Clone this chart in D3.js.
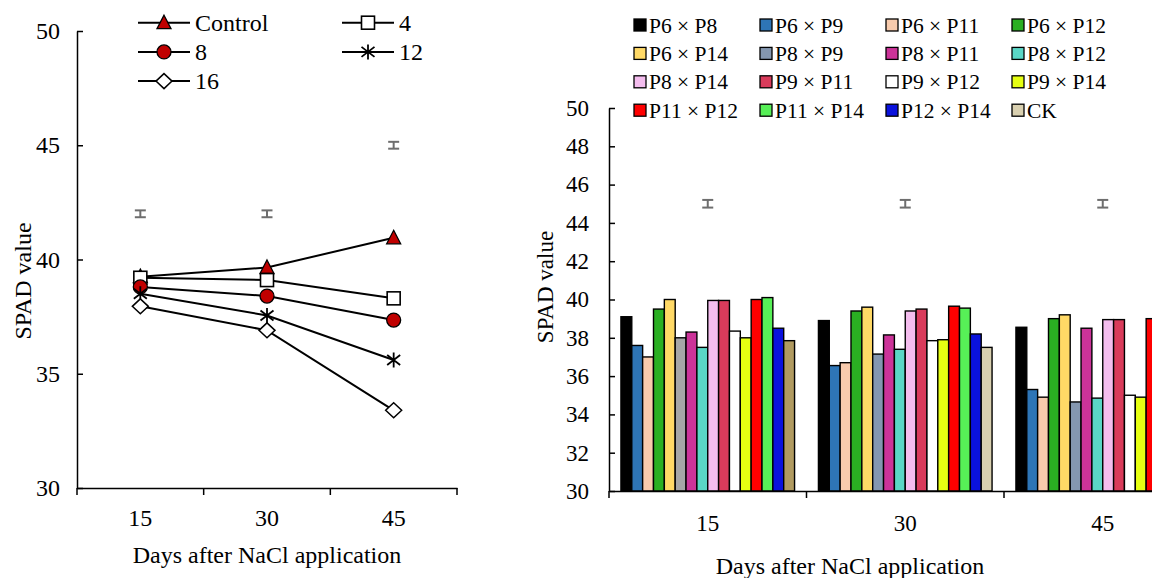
<!DOCTYPE html>
<html><head><meta charset="utf-8">
<script src="https://cdn.jsdelivr.net/npm/d3@7"></script>
<style>
body{margin:0;background:#fff}
svg{display:block}
</style>
</head><body><svg id="c" width="1152" height="578"></svg>
<script>
// ---------- DATA ----------
const days = ["15", "30", "45"];

// Left panel: NaCl concentrations
const lineNames = ["Control", "4", "8", "12", "16"];
const controlVals = [39.25, 39.65, 40.95];
const nacl4Vals   = [39.2, 39.1, 38.3];
const nacl8Vals   = [38.8, 38.4, 37.35];
const nacl12Vals  = [38.5, 37.55, 35.6];
const nacl16Vals  = [37.95, 36.9, 33.4];
const leftErrCenter = [42, 42, 45];
const leftErrHalf   = [0.15, 0.15, 0.15];
const leftTicks = [30, 35, 40, 45, 50];

// Right panel: crosses
const crosses = ["P6 × P8", "P6 × P9", "P6 × P11", "P6 × P12",
                 "P6 × P14", "P8 × P9", "P8 × P11", "P8 × P12",
                 "P8 × P14", "P9 × P11", "P9 × P12", "P9 × P14",
                 "P11 × P12", "P11 × P14", "P12 × P14", "CK"];
const day15Vals = [39.1, 37.6, 37.0, 39.5, 40.0, 38.0, 38.3, 37.5, 39.95, 39.95, 38.35, 38.0, 40.0, 40.1, 38.5, 37.85];
const day30Vals = [38.9, 36.55, 36.7, 39.4, 39.6, 37.15, 38.15, 37.4, 39.4, 39.5, 37.85, 37.9, 39.65, 39.55, 38.2, 37.5];
const day45Vals = [38.55, 35.3, 34.9, 39.0, 39.2, 34.65, 38.5, 34.85, 38.95, 38.95, 35.0, 34.9, 39.0, null, null, null];
const rightErrCenter = [45, 45, 45];
const rightErrHalf   = [0.2, 0.2, 0.2];
const rightTicks = [30, 32, 34, 36, 38, 40, 42, 44, 46, 48, 50];

// Styles
const lineShapes = ["triangle", "square", "circle", "asterisk", "diamond"];
const paletteLegend = ["#000000", "#2e75b6", "#f8cbad", "#2aaf22", "#ffd966", "#8497b0", "#cc3399", "#5ad6c6",
                       "#f4bdee", "#d93b5b", "#ffffff", "#e6ff12", "#ff0000", "#57f057", "#0a12dd", "#d9d0b0"];
const palette15 = paletteLegend.map((c, i) => i === 5 ? "#a6a6a6" : i === 15 ? "#b09a60" : c);

// ---------- DRAW ----------
const FONT = "'Liberation Serif', 'Times New Roman', serif";
const svg = d3.select("#c");
svg.append("rect").attr("width", 1152).attr("height", 578).attr("fill", "#fff");

function txt(g, fs) {
  return g.append("text").style("font-family", FONT).style("font-size", fs + "px").attr("fill", "#000");
}

function styleAxis(g, fs) {
  g.attr("font-family", null).attr("font-size", null);
  g.select(".domain").attr("stroke", "#000").attr("stroke-width", 1.5);
  g.selectAll(".tick line").attr("stroke", "#000").attr("stroke-width", 1.5);
  g.selectAll(".tick text").attr("fill", "#000").style("font-family", FONT).style("font-size", fs + "px");
}

function errGlyph(g, x, yTop, yBot) {
  const e = g.append("g").attr("stroke", "#6e6e6e").attr("stroke-width", 2).attr("fill", "none");
  e.append("line").attr("x1", x).attr("x2", x).attr("y1", yTop).attr("y2", yBot);
  e.append("line").attr("x1", x - 5.5).attr("x2", x + 5.5).attr("y1", yTop).attr("y2", yTop);
  e.append("line").attr("x1", x - 5.5).attr("x2", x + 5.5).attr("y1", yBot).attr("y2", yBot);
}

function marker(g, shape, x, y) {
  const red = "#c00000";
  if (shape === "triangle") {
    g.append("path").attr("d", `M${x},${y - 7.5}L${x + 7},${y + 6}L${x - 7},${y + 6}Z`)
      .attr("fill", red).attr("stroke", "#000").attr("stroke-width", 1.3);
  } else if (shape === "square") {
    g.append("rect").attr("x", x - 6.5).attr("y", y - 6.5).attr("width", 13).attr("height", 13)
      .attr("fill", "#fff").attr("stroke", "#000").attr("stroke-width", 1.6);
  } else if (shape === "circle") {
    g.append("circle").attr("cx", x).attr("cy", y).attr("r", 7)
      .attr("fill", red).attr("stroke", "#000").attr("stroke-width", 1.3);
  } else if (shape === "asterisk") {
    g.append("path").attr("d", `M${x},${y - 7.5}V${y + 7.5}M${x - 6.5},${y - 5}L${x + 6.5},${y + 5}M${x - 6.5},${y + 5}L${x + 6.5},${y - 5}`)
      .attr("stroke", "#000").attr("stroke-width", 1.8).attr("fill", "none");
  } else if (shape === "diamond") {
    g.append("path").attr("d", `M${x},${y - 7.5}L${x + 8},${y}L${x},${y + 7.5}L${x - 8},${y}Z`)
      .attr("fill", "#fff").attr("stroke", "#000").attr("stroke-width", 1.5);
  }
}

// ===== LEFT PANEL =====
const xL = d3.scaleBand().domain(days).range([77, 457]);
const yL = d3.scaleLinear().domain([30, 50]).range([488, 31]);
const gL = svg.append("g");

gL.append("g").attr("transform", "translate(77,0)")
  .call(d3.axisLeft(yL).tickValues(leftTicks).tickSizeInner(-6).tickSizeOuter(0).tickPadding(17))
  .call(g => styleAxis(g, 24));

gL.append("g").attr("transform", "translate(0,488)")
  .call(d3.axisBottom(xL).tickSize(0).tickPadding(21))
  .call(g => styleAxis(g, 24));
[...days.map(d => xL(d)), xL.range()[1]].forEach(x => {
  gL.append("line").attr("x1", x).attr("x2", x).attr("y1", 488).attr("y2", 495)
    .attr("stroke", "#000").attr("stroke-width", 1.5);
});

txt(gL, 24).attr("x", 267).attr("y", 563).attr("text-anchor", "middle").text("Days after NaCl application");
txt(gL, 24).attr("transform", "translate(31,281) rotate(-90)").attr("text-anchor", "middle").text("SPAD value");

days.forEach((d, i) => errGlyph(gL, xL(d) + xL.bandwidth() / 2,
  yL(leftErrCenter[i] + leftErrHalf[i]), yL(leftErrCenter[i] - leftErrHalf[i])));

const lineVals = [controlVals, nacl4Vals, nacl8Vals, nacl12Vals, nacl16Vals];
const cx = d => xL(d) + xL.bandwidth() / 2;
const lineGen = d3.line().x((v, i) => cx(days[i])).y(v => yL(v));
lineVals.forEach(vals => {
  gL.append("path").attr("d", lineGen(vals)).attr("fill", "none").attr("stroke", "#000").attr("stroke-width", 2);
});
lineVals.forEach((vals, s) => {
  vals.forEach((v, i) => marker(gL, lineShapes[s], cx(days[i]), yL(v)));
});

// left legend
const legPos = [[0, 0], [1, 0], [0, 1], [1, 1], [0, 2]];
lineNames.forEach((name, s) => {
  const lx = 138 + legPos[s][0] * 204, ly = 22.7 + legPos[s][1] * 29.2;
  gL.append("line").attr("x1", lx).attr("x2", lx + 52).attr("y1", ly).attr("y2", ly)
    .attr("stroke", "#000").attr("stroke-width", 2);
  marker(gL, lineShapes[s], lx + 26, ly);
  txt(gL, 24).attr("x", lx + 57).attr("y", ly + 8).text(name);
});

// ===== RIGHT PANEL =====
const groupW = 197.5;
const xR = d3.scaleBand().domain(days).range([609, 609 + groupW * 3]);
const xIn = d3.scaleBand().domain(d3.range(crosses.length)).range([0, xR.bandwidth()]).paddingInner(0).paddingOuter(1.1);
const yR = d3.scaleLinear().domain([30, 50]).range([491, 108]);
const gR = svg.append("g");

const groupVals = [day15Vals, day30Vals, day45Vals];
const groupPal = [palette15, paletteLegend, paletteLegend];
days.forEach((d, gi) => {
  groupVals[gi].forEach((v, si) => {
    if (v == null) return;
    gR.append("rect")
      .attr("x", xR(d) + xIn(si)).attr("width", xIn.bandwidth())
      .attr("y", yR(v)).attr("height", yR(30) - yR(v))
      .attr("fill", groupPal[gi][si]).attr("stroke", "#000").attr("stroke-width", 1.4);
  });
});

gR.append("g").attr("transform", "translate(609,0)")
  .call(d3.axisLeft(yR).tickValues(rightTicks).tickSizeInner(-6).tickSizeOuter(0).tickPadding(20))
  .call(g => styleAxis(g, 23));
gR.append("g").attr("transform", "translate(0,491)")
  .call(d3.axisBottom(xR).tickSize(0).tickPadding(24))
  .call(g => styleAxis(g, 23));
days.forEach(d => {
  gR.append("line").attr("x1", xR(d)).attr("x2", xR(d)).attr("y1", 491).attr("y2", 498)
    .attr("stroke", "#000").attr("stroke-width", 1.5);
});

days.forEach((d, i) => errGlyph(gR, xR(d) + xR.bandwidth() / 2,
  yR(rightErrCenter[i] + rightErrHalf[i]), yR(rightErrCenter[i] - rightErrHalf[i])));

txt(gR, 24).attr("x", 850).attr("y", 574).attr("text-anchor", "middle").text("Days after NaCl application");
txt(gR, 23).attr("transform", "translate(553,287) rotate(-90)").attr("text-anchor", "middle").text("SPAD value");

// right legend
crosses.forEach((name, i) => {
  const col = i % 4, row = Math.floor(i / 4);
  const lx = 634 + col * 126, ly = 25 + row * 28.4;
  gR.append("rect").attr("x", lx).attr("y", ly - 6).attr("width", 12).attr("height", 12)
    .attr("fill", paletteLegend[i]).attr("stroke", "#000").attr("stroke-width", 1.3);
  txt(gR, 21.5).attr("x", lx + 15).attr("y", ly + 7.5).text(name);
});
</script>
</body></html>
